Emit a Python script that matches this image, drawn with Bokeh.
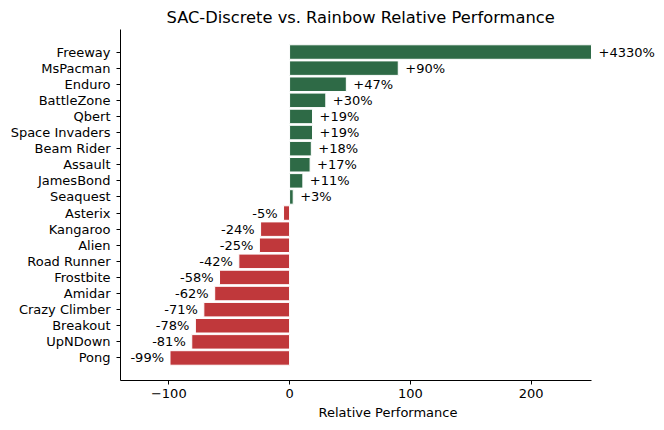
from bokeh.plotting import figure
from bokeh.models import ColumnDataSource, Range1d, FixedTicker, LabelSet
from bokeh.core.properties import value
from bokeh.embed import file_html
from bokeh.resources import INLINE

games = ["Freeway", "MsPacman", "Enduro", "BattleZone", "Qbert", "Space Invaders",
         "Beam Rider", "Assault", "JamesBond", "Seaquest", "Asterix", "Kangaroo",
         "Alien", "Road Runner", "Frostbite", "Amidar", "Crazy Climber", "Breakout",
         "UpNDown", "Pong"]
values = [4330, 90, 47, 30, 19, 19, 18, 17, 11, 3, -5, -24, -25, -42, -58, -62,
          -71, -78, -81, -99]

X_MIN, X_MAX = -140, 250      # visible axis extent
X_FRAME_MAX = 303             # extra room on the right for the clipped bar's label
GREEN = "#2e6a46"
RED = "#c0383b"
FONT = "DejaVu Sans"

n = len(games)
ypos = [n - 1 - i for i in range(n)]
colors = [GREEN if v >= 0 else RED for v in values]
labels = [("+%d%%" % v) if v >= 0 else ("%d%%" % v) for v in values]
shown = [min(v, X_MAX) for v in values]   # bars are clipped at the axis end

src = ColumnDataSource(dict(y=ypos, v=shown, c=colors))
pos = ColumnDataSource(dict(y=[y for y, v in zip(ypos, values) if v >= 0],
                            lab=[l for l, v in zip(labels, values) if v >= 0],
                            lx=[x for x, v in zip(shown, values) if v >= 0]))
neg = ColumnDataSource(dict(y=[y for y, v in zip(ypos, values) if v < 0],
                            lab=[l for l, v in zip(labels, values) if v < 0],
                            lx=[x for x, v in zip(shown, values) if v < 0]))

p = figure(width=660, height=426, output_backend="svg", toolbar_location=None,
           x_range=Range1d(X_MIN, X_FRAME_MAX), y_range=Range1d(-1.4, n - 1 + 1.4),
           min_border_left=120, min_border_right=5, min_border_top=29,
           min_border_bottom=46, title="SAC-Discrete vs. Rainbow Relative Performance")
p.frame_width = 535
p.frame_height = 351

p.title.align = "left"
p.title.offset = 46
p.title.text_font = FONT
p.title.text_font_size = "16.3px"
p.title.text_font_style = "normal"
p.title.text_color = "black"
p.title.standoff = 6

p.hbar(y="y", left=0, right="v", height=0.9, fill_color="c", line_color="white",
       line_width=1, source=src)

common = dict(text_font=value(FONT), text_font_size="13px", text_baseline="middle",
              text_color="black")
p.add_layout(LabelSet(x="lx", y="y", text="lab", source=pos, x_offset=7,
                      text_align="left", **common))
p.add_layout(LabelSet(x="lx", y="y", text="lab", source=neg, x_offset=-6,
                      text_align="right", **common))

p.xgrid.visible = False
p.ygrid.visible = False
p.outline_line_color = None

p.xaxis.bounds = (X_MIN, X_MAX)
p.yaxis.ticker = FixedTicker(ticks=ypos)
p.yaxis.major_label_overrides = {y: g for y, g in zip(ypos, games)}
p.xaxis.ticker = FixedTicker(ticks=[-100, 0, 100, 200])
p.xaxis.major_label_overrides = {-100: "\u2212100", 0: "0", 100: "100", 200: "200"}
p.xaxis.axis_label = "Relative Performance"
for ax in (p.xaxis, p.yaxis):
    ax.axis_line_color = "black"
    ax.axis_line_width = 1
    ax.major_tick_line_color = "black"
    ax.major_tick_out = 4
    ax.major_tick_in = 0
    ax.minor_tick_line_color = None
    ax.major_label_text_font = FONT
    ax.major_label_text_font_size = "13px"
    ax.major_label_text_color = "black"
    ax.major_label_standoff = 4
p.yaxis.major_label_standoff = 6
p.xaxis.axis_label_text_font = FONT
p.xaxis.axis_label_text_font_size = "13px"
p.xaxis.axis_label_text_font_style = "normal"
p.xaxis.axis_label_text_color = "black"
p.xaxis.axis_label_standoff = 4

open("out.html", "w").write(file_html(p, INLINE))
